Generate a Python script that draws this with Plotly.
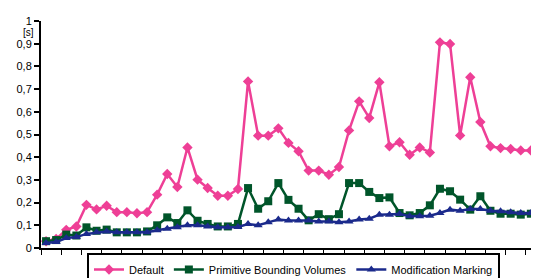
import plotly.graph_objects as go

runs = list(range(1, 51))

default = [0.03, 0.04, 0.08, 0.095, 0.19, 0.17, 0.186, 0.158, 0.158, 0.153,
           0.158, 0.235, 0.326, 0.269, 0.443, 0.301, 0.264, 0.23, 0.23, 0.26,
           0.734, 0.495, 0.495, 0.527, 0.463, 0.426, 0.341, 0.341, 0.323, 0.357,
           0.518, 0.646, 0.573, 0.73, 0.448, 0.466, 0.411, 0.443, 0.421, 0.906,
           0.899, 0.496, 0.752, 0.555, 0.448, 0.44, 0.436, 0.43, 0.43, 0.43]

pbv = [0.03, 0.035, 0.059, 0.055, 0.091, 0.076, 0.081, 0.069, 0.069, 0.069,
       0.073, 0.1, 0.135, 0.11, 0.166, 0.12, 0.106, 0.095, 0.095, 0.106,
       0.264, 0.173, 0.206, 0.286, 0.212, 0.173, 0.122, 0.149, 0.127, 0.149,
       0.286, 0.286, 0.247, 0.22, 0.223, 0.154, 0.144, 0.154, 0.188, 0.261,
       0.25, 0.213, 0.169, 0.228, 0.164, 0.151, 0.151, 0.147, 0.151, 0.151]

mm = [0.022, 0.026, 0.044, 0.048, 0.062, 0.069, 0.073, 0.069, 0.069, 0.069,
      0.069, 0.078, 0.085, 0.091, 0.1, 0.1, 0.095, 0.091, 0.091, 0.093,
      0.106, 0.1, 0.113, 0.126, 0.121, 0.121, 0.121, 0.117, 0.117, 0.113,
      0.117, 0.126, 0.129, 0.147, 0.147, 0.15, 0.14, 0.14, 0.142, 0.154,
      0.169, 0.164, 0.172, 0.172, 0.164, 0.162, 0.157, 0.154, 0.154, 0.154]

names = ["Default", "Primitive Bounding Volumes", "Modification Marking"]

fig = go.Figure()
fig.add_trace(go.Scatter(x=runs, y=default, name=names[0], mode="lines+markers",
                         line=dict(color="#ee3f96", width=2.5),
                         marker=dict(symbol="diamond", size=8, color="#ee3f96")))
fig.add_trace(go.Scatter(x=runs, y=pbv, name=names[1], mode="lines+markers",
                         line=dict(color="#00552a", width=2.5),
                         marker=dict(symbol="square", size=8, color="#00552a")))
fig.add_trace(go.Scatter(x=runs, y=mm, name=names[2], mode="lines+markers",
                         line=dict(color="#1b2a8c", width=2.5),
                         marker=dict(symbol="triangle-up", size=8, color="#1b2a8c")))

fig.update_layout(
    width=539, height=278,
    margin=dict(l=33, r=1, t=13, b=38, autoexpand=False),
    paper_bgcolor="white", plot_bgcolor="white",
    separators=", ",
    font=dict(family="Liberation Sans, Arial, sans-serif", size=11, color="black"),
    showlegend=True,
    legend=dict(orientation="h", x=0.5, xanchor="center", y=-0.022, yanchor="top",
                bordercolor="black", borderwidth=2, bgcolor="white",
                font=dict(size=11), itemwidth=30, tracegroupgap=0),
)
fig.update_xaxes(type="category", range=[-0.5, 49.5], showticklabels=False,
                 showline=True, linecolor="black", linewidth=2,
                 ticks="outside", ticklen=5, tickwidth=1, tickcolor="black",
                 tickson="boundaries", showgrid=False, zeroline=False)
fig.update_yaxes(range=[0, 1], dtick=0.1, tick0=0, showline=True, linecolor="black",
                 linewidth=2, ticks="outside", ticklen=5, tickwidth=2, tickcolor="black",
                 showgrid=False, zeroline=False, tickfont=dict(size=11))
fig.add_annotation(text="[s]", xref="paper", yref="paper", x=-0.024, y=0.951,
                   xanchor="center", yanchor="middle", showarrow=False,
                   font=dict(size=10))

fig.write_html("out.html")
